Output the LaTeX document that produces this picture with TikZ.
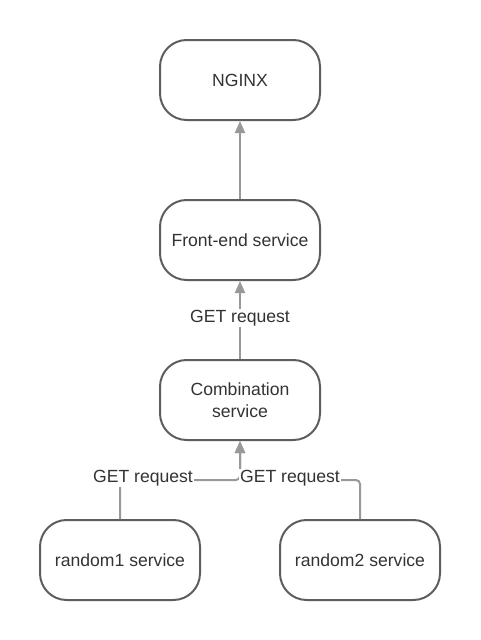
\documentclass[tikz,border=0pt]{standalone}
\usepackage{fontspec}
\setmainfont{Liberation Sans}
\usetikzlibrary{arrows.meta}
\definecolor{boxline}{HTML}{5E5E5E}
\definecolor{connline}{HTML}{999999}
\definecolor{txt}{HTML}{333333}
\begin{document}
\begin{tikzpicture}[x=0.75pt,y=-0.75pt,
  svc/.style={draw=boxline, line width=1.5pt, rounded corners=20pt,
    minimum width=120pt, minimum height=60pt, align=center, text=txt,
    font=\fontsize{13.2}{16.5}\selectfont, inner sep=0pt},
  conn/.style={draw=connline, line width=1.5pt, rounded corners=3pt,
    -{Triangle[width=7.5pt,length=9pt]}},
  lbl/.style={fill=white, text=txt, inner sep=1pt,
    font=\fontsize{13.2}{15}\selectfont}]
\useasboundingbox[fill=white] (0,0) rectangle (480,640);
\node[svc] (nginx) at (240,80) {NGINX};
\node[svc] (front) at (240,240) {Front-end service};
\node[svc] (comb) at (240,400) {Combination\\service};
\node[svc] (r1) at (120,560) {random1 service};
\node[svc] (r2) at (360,560) {random2 service};
\coordinate (j) at (240,480);
\draw[conn] (front.north) -- (nginx.south);
\draw[conn] (comb.north) -- (front.south);
\draw[conn] (r1.north) |- (j) -- (comb.south);
\draw[conn] (r2.north) |- (j) -- (comb.south);
\node[lbl] (l1) at (240,318) {GET request};
\node[lbl] (l2) at (143,478) {GET request};
\node[lbl] (l3) at (290,478) {GET request};
\end{tikzpicture}
\end{document}
